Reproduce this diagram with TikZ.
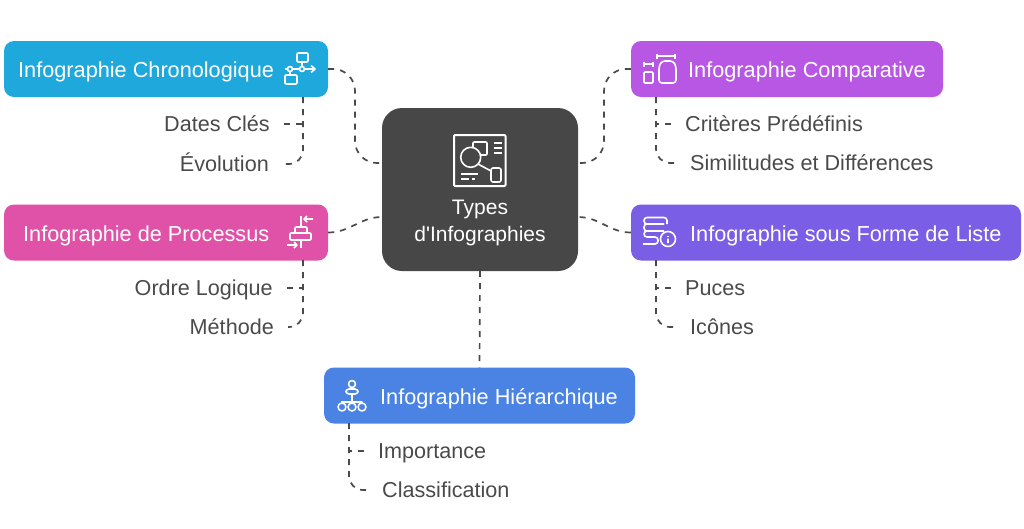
\documentclass[tikz,border=0pt]{standalone}
\usepackage{fontspec}
\setmainfont[Ligatures=TeXOff]{Liberation Sans}
\tikzset{
  boxnode/.style = {rectangle, rounded corners=10pt, minimum height=56pt, inner sep=0pt},
  boxtext/.style = {anchor=west, inner sep=0pt, text=white, font=\fontsize{21.7}{24}\selectfont},
  leafnode/.style = {inner ysep=0pt, inner xsep=14pt, text=txtgray, text height=17pt, text depth=3pt,
    font=\fontsize{21.6}{24}\selectfont},
  leaf_l/.style = {leafnode, anchor=east},
  leaf_r/.style = {leafnode, anchor=west},
  dashline/.style = {draw=txtgray, line width=1.7pt, dash pattern=on 6pt off 6pt},
  iconline/.style = {draw=white, line width=1.6pt, line join=round}
}
\definecolor{txtgray}{HTML}{4A4A4A}
\definecolor{darkbox}{HTML}{474747}
\definecolor{bluechrono}{HTML}{1FA8DC}
\definecolor{purplecomp}{HTML}{B857E3}
\definecolor{violetlist}{HTML}{7A5FE6}
\definecolor{pinkproc}{HTML}{E052A8}
\definecolor{bluehier}{HTML}{4A83E3}
\begin{document}
\begin{tikzpicture}[x=1pt,y=-1pt]
\useasboundingbox (0,0) rectangle (1024,528);
% boxes
\node [boxnode, fill=darkbox, rounded corners=20pt, minimum width=196pt, minimum height=163pt] (central) at (480,189.5) {};
\node [boxnode, fill=bluechrono, minimum width=324pt] (chrono) at (166,69) {};
\node [boxnode, fill=purplecomp, minimum width=312pt] (compar) at (787,69) {};
\node [boxnode, fill=pinkproc, minimum width=324pt] (process) at (166,232.5) {};
\node [boxnode, fill=violetlist, minimum width=390pt] (liste) at (826,232.5) {};
\node [boxnode, fill=bluehier, minimum width=311pt] (hier) at (479.5,395.5) {};
% box texts
\node [align=center, inner sep=0pt, text=white, font=\fontsize{21}{27}\selectfont] (centraltext) at (480,222.5) {Types\\d'Infographies};
\node [boxtext] (chronotext) at (18,71.5) {Infographie Chronologique};
\node [boxtext] (compartext) at (688,71.5) {Infographie Comparative};
\node [boxtext] (processtext) at (23,235.5) {Infographie de Processus};
\node [boxtext] (listetext) at (690,235.5) {Infographie sous Forme de Liste};
\node [boxtext] (hiertext) at (380,398.5) {Infographie Hiérarchique};
% leaves
\node [leaf_l] (dates) at (284,124) {Dates Clés};
\node [leaf_l] (evolution) at (283,164) {Évolution};
\node [leaf_l] (ordre) at (287,288) {Ordre Logique};
\node [leaf_l] (methode) at (288,327) {Méthode};
\node [leaf_r] (criteres) at (671,124) {Critères Prédéfinis};
\node [leaf_r] (simil) at (676,163) {Similitudes et Différences};
\node [leaf_r] (puces) at (671,288) {Puces};
\node [leaf_r] (icones) at (676,327) {Icônes};
\node [leaf_r] (importance) at (364,451) {Importance};
\node [leaf_r] (classif) at (368,490) {Classification};
% anchors on the boxes
\coordinate (chronoS) at (303,97);
\coordinate (comparS) at (656,97);
\coordinate (processS) at (303,260);
\coordinate (listeS) at (656,260);
\coordinate (hierS) at (349,423);
\coordinate (centralTL) at (382,163);
\coordinate (centralTR) at (578,163);
\coordinate (centralBL) at (382,217);
\coordinate (centralBR) at (578,217);
\coordinate (midL) at (355,116);
\coordinate (midR) at (604,116);
% connectors
\draw [dashline, rounded corners=22pt] (chrono.east) -| (midL) |- (centralTL);
\draw [dashline, rounded corners=22pt] (compar.west) -| (midR) |- (centralTR);
\draw [dashline] (process.east) to[out=0,in=180] (centralBL);
\draw [dashline] (liste.west) to[out=180,in=0] (centralBR);
\draw [dashline] (central.south) -- (hier.north);
\draw [dashline] (dates) -- (chronoS |- dates);
\draw [dashline, rounded corners=14pt] (chronoS) |- (evolution);
\draw [dashline] (criteres) -- (comparS |- criteres);
\draw [dashline, rounded corners=14pt] (comparS) |- (simil);
\draw [dashline] (ordre) -- (processS |- ordre);
\draw [dashline, rounded corners=14pt] (processS) |- (methode);
\draw [dashline] (puces) -- (listeS |- puces);
\draw [dashline, rounded corners=14pt] (listeS) |- (icones);
\draw [dashline] (importance) -- (hierS |- importance);
\draw [dashline, rounded corners=14pt] (hierS) |- (classif);
% central icon
\draw [iconline, line width=2pt, rounded corners=1pt] (454,135) rectangle (505.5,186);
\draw [iconline] (470.7,157.3) circle (10);
\draw [iconline, rounded corners=1pt] (473,147) -- (473,142) -- (487,142) -- (487,155) -- (480,155);
\draw [iconline] (494,143) -- (502,143) (494,148) -- (502,148) (494,153) -- (502,153);
\draw [iconline] (478,164) -- (491,171);
\draw [iconline, rounded corners=2pt] (491,168) rectangle (501,182);
\draw [iconline] (461,174) -- (478,174) (461,179) -- (469,179) (472,179) -- (475,179);
% chrono icon
\draw [iconline, rounded corners=1pt] (297,53) rectangle (308,62);
\draw [iconline, rounded corners=1pt] (285,75) rectangle (297,84);
\draw [iconline] (302,62) -- (302,67) (290,71) -- (290,75);
\draw [iconline, fill=bluechrono] (290,69) circle (2.5) (302,69) circle (2.5);
\draw [iconline] (285,69) -- (287.5,69) (292.5,69) -- (299.5,69) (304.5,69) -- (315,69) (311,65.5) -- (315,69) -- (311,72.5);
% comparative icon
\draw [iconline, rounded corners=3pt] (659,83) -- (659,66) -- (662,61) -- (673,61) -- (676,66) -- (676,83) -- cycle;
\draw [iconline, rounded corners=1pt] (644,72) rectangle (653,83);
\draw [iconline] (657,56) -- (675,56) (657,53.5) -- (657,58.5) (675,53.5) -- (675,58.5);
\draw [iconline] (644,64) -- (653,64) (644,61.5) -- (644,66.5) (653,61.5) -- (653,66.5);
% process icon
\draw [iconline] (301,216) -- (301,227) (301,240) -- (301,248);
\draw [iconline, rounded corners=1pt] (295,227) rectangle (307,233);
\draw [iconline, rounded corners=1pt] (290,233) rectangle (311,240);
\draw [iconline] (313,219) -- (304,219) (307,216) -- (304,219) -- (307,222);
\draw [iconline] (287,245) -- (297,245) (294,242) -- (297,245) -- (294,248);
% list icon
\draw [iconline, rounded corners=3pt] (667,224) -- (667,217.5) -- (644,217.5) -- (644,224) -- (664,224);
\draw [iconline, rounded corners=3pt] (664,224) -- (644,224) -- (644,231) -- (664,231);
\draw [iconline, rounded corners=3pt] (659,231) -- (644,231) -- (644,237) -- (658,237) -- (658,244) -- (643,244);
\draw [iconline] (668,239) circle (7.5) (668,236) -- (668,236.8) (668,238.5) -- (668,243);
% hier icon
\draw [iconline] (352,384) circle (3.5);
\draw [iconline, rounded corners=3pt] (346,394) -- (346,389) -- (358,389) -- (358,394) -- cycle;
\draw [iconline] (352,394) -- (352,403) (342,403) -- (342,402) -- (362,402) -- (362,403);
\draw [iconline] (342,407) circle (4) (352,407) circle (4) (362,407) circle (4);
\end{tikzpicture}
\end{document}
